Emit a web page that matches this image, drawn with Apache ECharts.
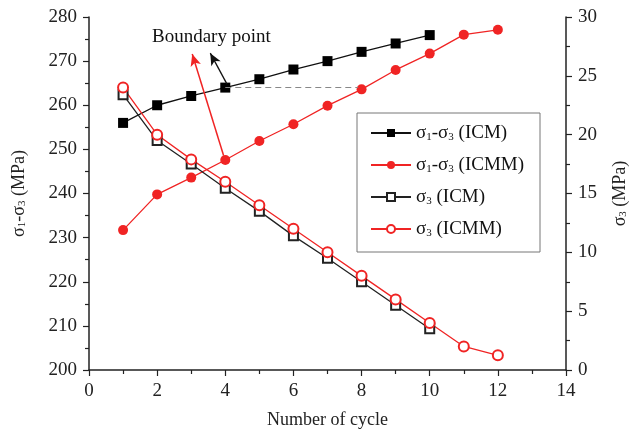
<!DOCTYPE html>
<html>
<head>
<meta charset="utf-8">
<script src="https://cdn.jsdelivr.net/npm/echarts@6/dist/echarts.min.js"></script>
<style>
  html, body { margin: 0; padding: 0; background: #fff; }
  #chart { width: 634px; height: 433px; }
</style>
</head>
<body>
<div id="chart"></div>
<script>
// cycles
var cyclesICM = [1, 2, 3, 4, 5, 6, 7, 8, 9, 10];
var cyclesICMM = [1, 2, 3, 4, 5, 6, 7, 8, 9, 10, 11, 12];
// deviator stress, MPa (left axis)
var devICM = [256, 260, 262.1, 264, 265.9, 268.1, 270, 272.1, 274, 275.9];
var devICMM = [231.7, 239.8, 243.6, 247.6, 251.9, 255.7, 259.9, 263.6, 268, 271.7, 276, 277.1];
// confining stress, MPa (right axis)
var s3ICM = [23.4, 19.5, 17.5, 15.45, 13.5, 11.4, 9.5, 7.5, 5.5, 3.5];
var s3ICMM = [24, 20, 17.9, 16, 14, 12, 10, 8, 6, 4, 2, 1.25];

var FONT = 'Liberation Serif';
var RED = '#f02424';

function pairs(xs, ys) {
  return xs.map(function (x, i) { return [x, ys[i]]; });
}
// turn σ1 / σ3 into rich text with subscripts
function subs(s) {
  return s.replace(/σ([13])/g, 'σ{sub|$1}');
}
var rich = {
  sub: { fontSize: 11, fontFamily: FONT, color: '#111', verticalAlign: 'bottom', lineHeight: 12 }
};

var chart = echarts.init(document.getElementById('chart'));

var axisCommon = {
  axisLine: { show: true, lineStyle: { color: '#222', width: 1.5 } },
  axisTick: { show: true, inside: false, length: 6, lineStyle: { color: '#222', width: 1.2 } },
  minorTick: { show: true, splitNumber: 2, length: 4, lineStyle: { color: '#222', width: 1.2 } },
  splitLine: { show: false },
  axisLabel: { color: '#222', fontFamily: FONT, fontSize: 19, margin: 12 },
  nameTextStyle: { color: '#222', fontFamily: FONT, fontSize: 18, rich: rich }
};

chart.setOption({
  animation: false,
  grid: { left: 89, right: 68, top: 17, bottom: 63, outerBoundsMode: 'none' },
  xAxis: Object.assign({}, axisCommon, {
    type: 'value', min: 0, max: 14, interval: 2,
    name: 'Number of cycle', nameLocation: 'middle', nameGap: 41
  }),
  yAxis: [
    Object.assign({}, axisCommon, {
      type: 'value', position: 'left', min: 200, max: 280, interval: 10,
      name: subs('σ1-σ3 (MPa)'), nameLocation: 'middle', nameGap: 61
    }),
    Object.assign({}, axisCommon, {
      type: 'value', position: 'right', min: 0, max: 30, interval: 5,
      name: subs('σ3 (MPa)'), nameLocation: 'middle', nameGap: 45
    })
  ],
  legend: {
    orient: 'vertical',
    left: 357, top: 113,
    padding: [10, 16, 13, 13],
    itemGap: 12,
    itemWidth: 40, itemHeight: 10,
    borderColor: '#777', borderWidth: 1,
    backgroundColor: '#fff',
    textStyle: { color: '#111', fontFamily: FONT, fontSize: 19, lineHeight: 20, rich: rich },
    formatter: function (name) { return subs(name); }
  },
  graphic: [{
    type: 'text', left: 152, top: 28,
    style: { text: 'Boundary point', fontFamily: FONT, fontSize: 19, fill: '#111' }
  }],
  series: [
    {
      name: 'σ1-σ3 (ICM)', type: 'line', yAxisIndex: 0,
      data: pairs(cyclesICM, devICM),
      symbol: 'rect', symbolSize: 10,
      itemStyle: { color: '#000' }, lineStyle: { color: '#111', width: 1.3 },
      markLine: {
        silent: true, animation: false,
        label: { show: false },
        data: [
          [{ coord: [4, 264], symbol: 'none', lineStyle: { color: '#888', type: [6, 4], width: 1.2 } },
           { coord: [7.9, 264], symbol: 'none' }],
          [{ coord: [4.05, 264.8], symbol: 'none', lineStyle: { color: '#111', type: 'solid', width: 1.3 } },
           { coord: [3.56, 271.8], symbol: 'arrow', symbolSize: [8, 12] }]
        ]
      }
    },
    {
      name: 'σ1-σ3 (ICMM)', type: 'line', yAxisIndex: 0,
      data: pairs(cyclesICMM, devICMM),
      symbol: 'circle', symbolSize: 10,
      itemStyle: { color: RED }, lineStyle: { color: RED, width: 1.3 },
      markLine: {
        silent: true, animation: false,
        label: { show: false },
        data: [
          [{ coord: [3.95, 248.6], symbol: 'none', lineStyle: { color: RED, type: 'solid', width: 1.5 } },
           { coord: [3.03, 271.6], symbol: 'arrow', symbolSize: [8, 12] }]
        ]
      }
    },
    {
      name: 'σ3 (ICM)', type: 'line', yAxisIndex: 1,
      data: pairs(cyclesICM, s3ICM),
      symbol: 'emptyRect', symbolSize: 9,
      itemStyle: { color: '#222', borderWidth: 1.3 }, lineStyle: { color: '#222', width: 1.3 }
    },
    {
      name: 'σ3 (ICMM)', type: 'line', yAxisIndex: 1,
      data: pairs(cyclesICMM, s3ICMM),
      symbol: 'emptyCircle', symbolSize: 10,
      itemStyle: { color: RED, borderWidth: 1.3 }, lineStyle: { color: RED, width: 1.3 }
    }
  ]
});
</script>
</body>
</html>
